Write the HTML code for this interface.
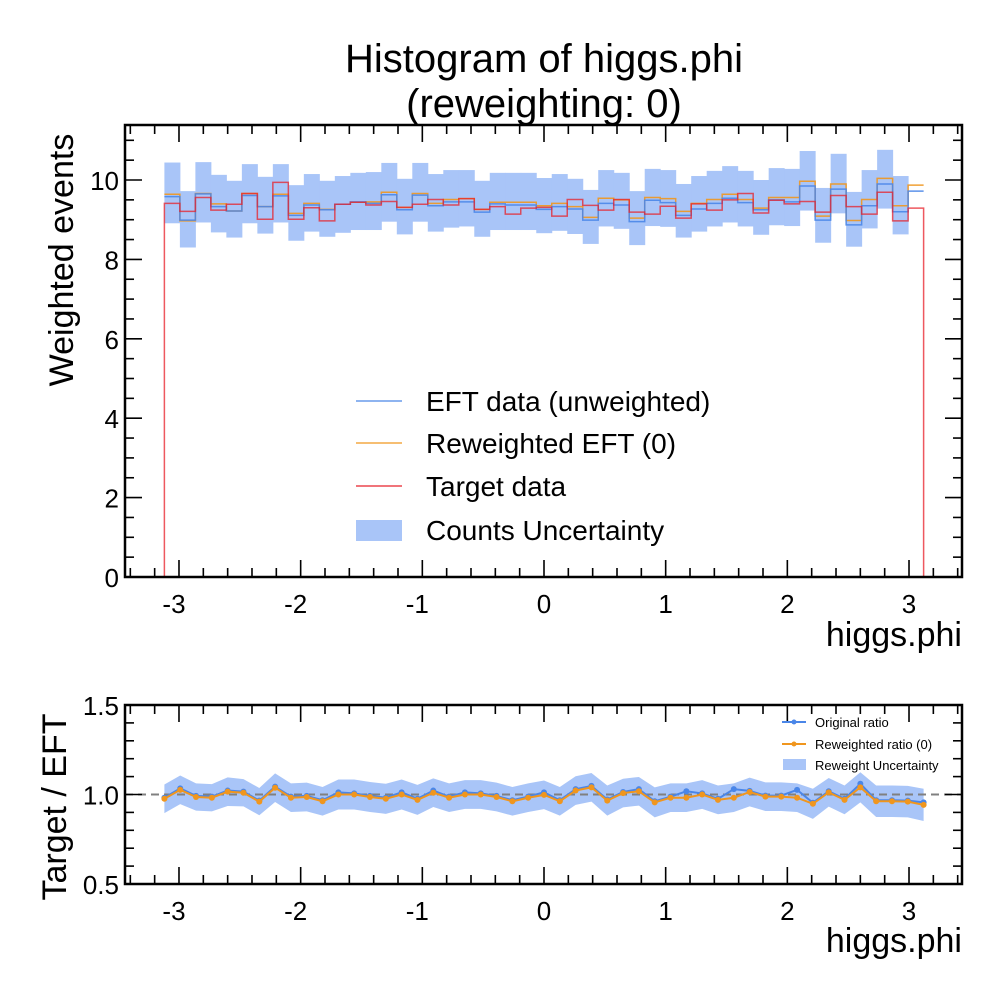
<!DOCTYPE html>
<html><head><meta charset="utf-8"><style>
html,body{margin:0;padding:0;background:#fff;}
svg{display:block;font-family:"Liberation Sans",Arial,sans-serif;}
</style></head><body>
<svg id="chart" width="1000" height="1000" viewBox="0 0 1000 1000" xmlns="http://www.w3.org/2000/svg"></svg>
<script>
// ---- data ----
const nBins = 49;
const eftCounts = [9.58,8.99,9.65,9.33,9.22,9.61,9.33,9.60,9.11,9.37,9.25,9.39,9.45,9.41,9.63,9.25,9.62,9.35,9.45,9.45,9.19,9.40,9.37,9.37,9.26,9.33,9.27,8.99,9.41,9.37,8.95,9.49,9.43,9.11,9.27,9.41,9.54,9.43,9.25,9.50,9.45,9.85,8.99,9.77,8.87,9.35,9.90,9.20,9.72];
const reweightedCounts = [9.64,8.97,9.66,9.40,9.22,9.66,9.33,9.64,9.16,9.41,9.26,9.39,9.44,9.45,9.69,9.31,9.66,9.41,9.51,9.53,9.26,9.44,9.44,9.44,9.35,9.41,9.33,9.06,9.54,9.50,9.04,9.56,9.53,9.21,9.41,9.51,9.64,9.51,9.29,9.56,9.56,9.97,9.09,9.90,8.98,9.51,10.04,9.35,9.87];
const targetCounts = [9.41,9.21,9.56,9.24,9.39,9.66,9.01,9.94,9.01,9.30,8.97,9.39,9.44,9.37,9.46,9.31,9.39,9.51,9.37,9.53,9.26,9.33,9.14,9.29,9.31,9.09,9.51,9.36,9.24,9.51,9.19,9.14,9.34,9.04,9.40,9.24,9.50,9.66,9.17,9.49,9.40,9.46,9.19,9.61,9.33,9.14,9.69,8.97,9.29];
const bandHigh = [10.44,9.72,10.45,10.13,9.98,10.40,10.08,10.40,9.87,10.15,9.98,10.10,10.18,10.20,10.43,10.03,10.43,10.15,10.25,10.25,9.98,10.18,10.18,10.18,10.05,10.15,10.03,9.75,10.25,10.18,9.72,10.28,10.25,9.90,10.10,10.23,10.35,10.23,10.00,10.30,10.28,10.73,9.80,10.66,9.70,10.25,10.76,10.10,null];
const bandLow = [8.91,8.30,8.93,8.68,8.55,8.91,8.65,8.93,8.47,8.70,8.57,8.67,8.74,8.74,8.95,8.63,8.95,8.70,8.80,8.83,8.57,8.74,8.74,8.74,8.66,8.72,8.64,8.39,8.83,8.77,8.36,8.84,8.82,8.55,8.70,8.83,8.93,8.83,8.62,8.86,8.84,9.23,8.42,9.16,8.32,8.78,9.28,8.63,null];
const ratioReweighted = [0.976,1.026,0.986,0.982,1.016,1.010,0.960,1.038,0.982,0.986,0.962,1.000,1.000,0.986,0.976,1.000,0.970,1.010,0.982,1.000,1.000,0.986,0.962,0.982,0.998,0.962,1.022,1.040,0.966,1.008,1.018,0.956,0.982,0.982,1.000,0.970,0.982,1.014,0.988,0.988,0.982,0.948,1.012,0.970,1.040,0.962,0.962,0.960,0.942];
const ratioOriginal = [0.982,1.034,0.992,0.988,1.022,1.016,0.966,1.044,0.988,0.992,0.968,1.012,1.006,0.992,0.982,1.012,0.976,1.022,0.988,1.012,1.006,0.992,0.968,0.988,1.012,0.968,1.030,1.048,0.972,1.014,1.030,0.962,0.988,1.018,1.006,0.976,1.030,1.020,0.994,0.994,1.026,0.954,1.018,0.976,1.060,0.968,0.968,0.966,0.956];
const ratioErr = [0.080,0.080,0.076,0.076,0.080,0.076,0.076,0.080,0.080,0.080,0.080,0.084,0.084,0.084,0.084,0.084,0.084,0.080,0.080,0.080,0.080,0.080,0.080,0.080,0.080,0.080,0.080,0.080,0.084,0.080,0.080,0.084,0.080,0.080,0.080,0.080,0.080,0.080,0.080,0.080,0.080,0.084,0.080,0.080,0.084,0.088,0.088,0.088,0.090];
const xTicks = [-3,-2,-1,0,1,2,3];
const yTicksTop = [0,2,4,6,8,10];
const yTicksRatio = [0.5,1.0,1.5];
const xMin = -3.12, xMax = 3.12;

// ---- axes ----
const X0=125,X1=962;
const xs = v => 544 + v*121.67;
const T_TOP=125,T_BOT=577;
const yTop = v => 577 - v*39.7;
const R_TOP=705,R_BOT=884;
const yR = v => 794.5 - (v-1)*179;
const NS="http://www.w3.org/2000/svg";
const svg=document.getElementById('chart');
function mk(tag,attrs,parent){const e=document.createElementNS(NS,tag);for(const k in attrs)e.setAttribute(k,attrs[k]);(parent||svg).appendChild(e);return e;}
function txt(s,attrs,parent){const e=mk('text',attrs,parent);e.textContent=s;return e;}

const edge = i => xMin + i*(xMax-xMin)/nBins;

// ---- top panel ----
const gTop=mk('g',{});


const gBand=mk('g',{},gTop);


for(let i=0;i<nBins;i++){
  if(bandHigh[i]==null)continue;
  const r=mk('rect',{x:xs(edge(i)),y:yTop(bandHigh[i]),width:xs(edge(i+1))-xs(edge(i))+0.5,height:yTop(bandLow[i])-yTop(bandHigh[i]),fill:'#a9c5f8'},gBand);
  
  
}
function stepPath(vals,close){
  let d='M'+xs(edge(0))+','+yTop(close?0:vals[0]);
  for(let i=0;i<nBins;i++){d+=' L'+xs(edge(i))+','+yTop(vals[i])+' L'+xs(edge(i+1))+','+yTop(vals[i]);}
  if(close)d+=' L'+xs(edge(nBins))+','+yTop(0);
  return d;
}
const pO=mk('path',{d:stepPath(reweightedCounts,false),fill:'none',stroke:'#f0961e','stroke-width':1.5,'stroke-opacity':0.9},gTop);


const pB=mk('path',{d:stepPath(eftCounts,false),fill:'none',stroke:'#4a86e8','stroke-width':1.5,'stroke-opacity':0.9},gTop);


const pR=mk('path',{d:stepPath(targetCounts,true),fill:'none',stroke:'#e8202a','stroke-width':1.5,'stroke-opacity':0.75},gTop);



function drawAxes(g,yTopPx,yBotPx,yScale,yMajor,yMinorStep,yMin,yMax,fmt,name){
  const frame=mk('rect',{x:X0,y:yTopPx,width:X1-X0,height:yBotPx-yTopPx,fill:'none',stroke:'#000','stroke-width':2.5},g);
  
  
  for(let k=-17;k<=17;k++){
    const v=k*0.2, x=xs(v); if(x<X0||x>X1)continue;
    const major=Math.abs(v-Math.round(v))<1e-6; const L=major?17:9;
    mk('line',{x1:x,y1:yBotPx,x2:x,y2:yBotPx-L,stroke:'#000','stroke-width':1.6},g);
    mk('line',{x1:x,y1:yTopPx,x2:x,y2:yTopPx+L,stroke:'#000','stroke-width':1.6},g);
  }
  xTicks.forEach(v=>{const t=txt(String(v),{x:xs(v)-(v<0?5:0),y:yBotPx+36,'font-size':26,'text-anchor':'middle'},g);
    
    });
  const nMin=Math.round((yMax-yMin)/yMinorStep);
  for(let k=0;k<=nMin;k++){
    const v=yMin+k*yMinorStep, y=yScale(v); if(y<yTopPx-0.5||y>yBotPx+0.5)continue;
    const major=yMajor.some(m=>Math.abs(m-v)<1e-6); const L=major?17:9;
    mk('line',{x1:X0,y1:y,x2:X0+L,y2:y,stroke:'#000','stroke-width':1.6},g);
    mk('line',{x1:X1,y1:y,x2:X1-L,y2:y,stroke:'#000','stroke-width':1.6},g);
  }
  yMajor.forEach(v=>{const t=txt(fmt(v),{x:X0-6,y:yScale(v)+10,'font-size':26,'text-anchor':'end'},g);
    
    });
}
drawAxes(gTop,T_TOP,T_BOT,yTop,yTicksTop,0.5,0,11.0,v=>String(v),'main');

// legend top
const lg=mk('g',{},gTop);


const legItems=[['EFT data (unweighted)','#4a86e8',401],['Reweighted EFT (0)','#f0961e',443],['Target data','#e8202a',486]];
legItems.forEach(([s,c,y])=>{
  const ln=mk('line',{x1:356,y1:y,x2:402,y2:y,stroke:c,'stroke-width':1.3},lg);
  
  
  const t=txt(s,{x:426,y:y+10,'font-size':28},lg);
  
  
});
const lp=mk('rect',{x:356,y:520,width:46,height:21,fill:'#a9c5f8'},lg);


const lt=txt('Counts Uncertainty',{x:426,y:540,'font-size':28},lg);



// ---- ratio panel ----
const gR=mk('g',{});


const px = i => xs(xMin + i*(xMax-xMin)/(ratioReweighted.length-1));
let bd='';
for(let i=0;i<ratioReweighted.length;i++) bd+=(i?' L':'M')+px(i)+','+yR(ratioReweighted[i]+ratioErr[i]);
for(let i=ratioReweighted.length-1;i>=0;i--) bd+=' L'+px(i)+','+yR(ratioReweighted[i]-ratioErr[i]);
const band=mk('path',{d:bd+' Z',fill:'#a9c5f8'},gR);


const dash=mk('line',{x1:X0,y1:yR(1),x2:X1,y2:yR(1),stroke:'#808080','stroke-width':2,'stroke-dasharray':'8,5'},gR);


function series(vals,color,name){
  let d='';vals.forEach((v,i)=>{d+=(i?' L':'M')+px(i)+','+yR(v);});
  const p=mk('path',{d:d,fill:'none',stroke:color,'stroke-width':2},gR);
  
  
  vals.forEach((v,i)=>{const c=mk('circle',{cx:px(i),cy:yR(v),r:3,fill:color},gR);
    
    });
}
series(ratioOriginal,'#4a86e8','original-ratio');
series(ratioReweighted,'#f0961e','reweighted-ratio');
drawAxes(gR,R_TOP,R_BOT,yR,yTicksRatio,0.1,0.5,1.5,v=>v.toFixed(1),'ratio');

const rl=mk('g',{},gR);


[['Original ratio','#4a86e8',722],['Reweighted ratio (0)','#f0961e',744]].forEach(([s,c,y])=>{
  const ln=mk('line',{x1:782,y1:y,x2:806,y2:y,stroke:c,'stroke-width':2},rl);
  
  
  const d=mk('circle',{cx:794,cy:y,r:2.5,fill:c},rl);
  
  
  const t=txt(s,{x:815,y:y+5,'font-size':13},rl);
  
  
});
const rp=mk('rect',{x:783,y:759,width:23,height:11,fill:'#a9c5f8'},rl);


const rt=txt('Reweight Uncertainty',{x:815,y:770,'font-size':13},rl);



// ---- titles & labels ----
const t1=txt('Histogram of higgs.phi',{x:544,y:72,'font-size':40,'text-anchor':'middle'});


const t2=txt('(reweighting: 0)',{x:544,y:117,'font-size':40,'text-anchor':'middle'});


const xl1=txt('higgs.phi',{x:962,y:646,'font-size':34,'text-anchor':'end'});


const xl2=txt('higgs.phi',{x:962,y:952,'font-size':34,'text-anchor':'end'});


const yl1=txt('Weighted events',{x:0,y:0,'font-size':34,'text-anchor':'middle',transform:'translate(73,260) rotate(-90)'});


const yl2=txt('Target / EFT',{x:0,y:0,'font-size':34,'text-anchor':'middle',transform:'translate(66,807) rotate(-90)'});


</script>
</body></html>
